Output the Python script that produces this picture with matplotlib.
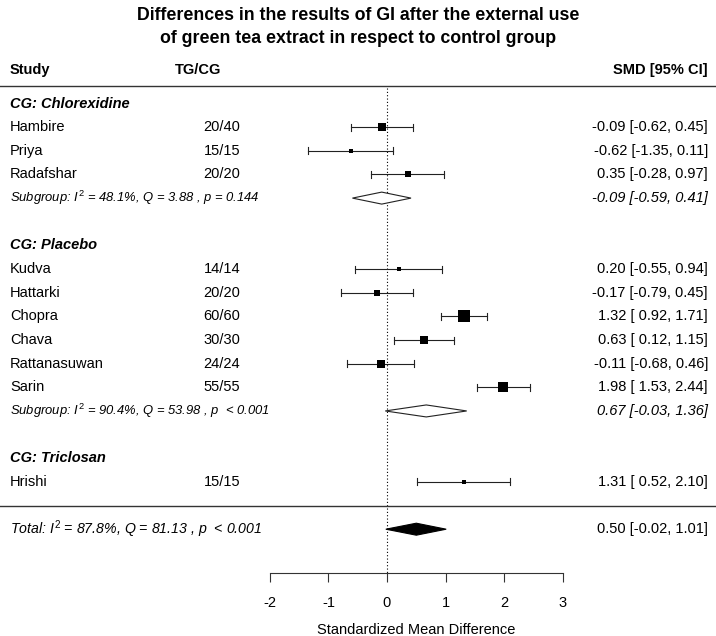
import matplotlib
matplotlib.use("Agg")
import matplotlib.pyplot as plt
import numpy as np

plt.rcParams['font.family'] = ['Liberation Sans', 'DejaVu Sans']
plt.rcParams['mathtext.fontset'] = 'custom'
plt.rcParams['mathtext.rm'] = 'Liberation Sans'
plt.rcParams['mathtext.it'] = 'Liberation Sans:italic'

# data
studies = ['Hambire', 'Priya', 'Radafshar',
           'Kudva', 'Hattarki', 'Chopra', 'Chava', 'Rattanasuwan', 'Sarin',
           'Hrishi']
tg_cg = ['20/40', '15/15', '20/20',
         '14/14', '20/20', '60/60', '30/30', '24/24', '55/55',
         '15/15']
smd = [-0.09, -0.62, 0.35, 0.20, -0.17, 1.32, 0.63, -0.11, 1.98, 1.31]
ci_lo = [-0.62, -1.35, -0.28, -0.55, -0.79, 0.92, 0.12, -0.68, 1.53, 0.52]
ci_hi = [0.45, 0.11, 0.97, 0.94, 0.45, 1.71, 1.15, 0.46, 2.44, 2.10]

group_names = ['CG: Chlorexidine', 'CG: Placebo', 'CG: Triclosan']
group_sizes = [3, 6, 1]
sub_est = [-0.09, 0.67]
sub_lo = [-0.59, -0.03]
sub_hi = [0.41, 1.36]
sub_stats = ['48.1%, Q = 3.88 , p = 0.144', '90.4%, Q = 53.98 , p  < 0.001']

tot_est, tot_lo, tot_hi = 0.50, -0.02, 1.01
tot_stats = '87.8%, Q = 81.13 , p  < 0.001'

ticks = [-2, -1, 0, 1, 2, 3]

# layout: axes spans the figure, x in SMD units, y in pixel rows
W, H = 716, 636
x0, ppu = 387.0, 58.6


def px(p):
    return (p - x0) / ppu


def row(k):
    return 103.5 + 23.65 * k


def fmt(e, l, h):
    return f"{e:.2f} [{l:5.2f}, {h:.2f}]"


fig = plt.figure(figsize=(W / 100, H / 100), dpi=100)
ax = fig.add_axes([0, 0, 1, 1])
ax.set_xlim(px(0), px(W))
ax.set_ylim(H, 0)

body = 10.5
xl, xm, xr = px(10), px(222), px(708)

fig.text(0.5, 1 - 27 / H, 'Differences in the results of GI after the external use\n'
         'of green tea extract in respect to control group',
         ha='center', va='center', fontsize=12.8, fontweight='bold', linespacing=1.45)

ax.text(xl, 70, 'Study', fontsize=body, fontweight='bold', va='center')
ax.text(px(198), 70, 'TG/CG', fontsize=body, fontweight='bold', va='center', ha='center')
ax.text(xr, 70, 'SMD [95% CI]', fontsize=body, fontweight='bold', va='center', ha='right')
ax.axhline(86, color='#333333', lw=1.0)
ax.axhline(row(17), color='#333333', lw=1.0)

# weights from CI widths -> square size
inv = 1 / (np.array(ci_hi) - np.array(ci_lo))
sizes = 4 + (inv - inv.min()) / (inv.max() - inv.min()) * 8.5

k = 0
i = 0
for g, (name, n) in enumerate(zip(group_names, group_sizes)):
    ax.text(xl, row(k), name, fontsize=body, fontweight='bold', style='italic', va='center')
    k += 1
    for _ in range(n):
        y = row(k)
        ax.text(xl, y, studies[i], fontsize=body, va='center')
        ax.text(xm, y, tg_cg[i], fontsize=body, va='center', ha='center')
        ax.text(xr, y, fmt(smd[i], ci_lo[i], ci_hi[i]), fontsize=body, va='center', ha='right')
        ax.plot([ci_lo[i], ci_hi[i]], [y, y], color='#222222', lw=0.8)
        ax.plot([ci_lo[i]] * 2, [y - 3.5, y + 3.5], color='#222222', lw=0.8)
        ax.plot([ci_hi[i]] * 2, [y - 3.5, y + 3.5], color='#222222', lw=0.8)
        ax.plot(smd[i], y, 's', color='black', ms=sizes[i] * 0.72, mew=0)
        i += 1
        k += 1
    if g < len(sub_est):
        y = row(k)
        ax.text(xl, y, 'Subgroup: $I^2$ = ' + sub_stats[g], fontsize=9.4, style='italic', va='center')
        ax.text(xr, y, fmt(sub_est[g], sub_lo[g], sub_hi[g]), fontsize=body,
                style='italic', va='center', ha='right')
        ax.fill([sub_lo[g], sub_est[g], sub_hi[g], sub_est[g]], [y, y - 6, y, y + 6],
                facecolor='white', edgecolor='#222222', lw=0.8, zorder=3)
        k += 2

y = row(18)
ax.text(xl, y, 'Total: $I^2$ = ' + tot_stats, fontsize=10.2, style='italic', va='center')
ax.text(xr, y, fmt(tot_est, tot_lo, tot_hi), fontsize=body, va='center', ha='right')
ax.fill([tot_lo, tot_est, tot_hi, tot_est], [y, y - 6, y, y + 6],
        facecolor='black', edgecolor='black', lw=0.8, zorder=3)

ax.vlines(0, 88, 573, colors='black', linestyles=(0, (1, 2)), lw=0.8, zorder=1)

# x axis
for s in ['top', 'left', 'right']:
    ax.spines[s].set_visible(False)
ax.spines['bottom'].set_position(('data', 573))
ax.spines['bottom'].set_bounds(ticks[0], ticks[-1])
ax.spines['bottom'].set_color('#333333')
ax.set_xticks(ticks)
ax.set_xticklabels([str(t) for t in ticks])
ax.tick_params(axis='x', direction='out', length=6.5, width=0.8, pad=10, labelsize=body,
               color='#333333')
ax.set_yticks([])
ax.text((ticks[0] + ticks[-1]) / 2, 630, 'Standardized Mean Difference',
        fontsize=body, ha='center', va='center')

fig.savefig('out.png', dpi=100)
